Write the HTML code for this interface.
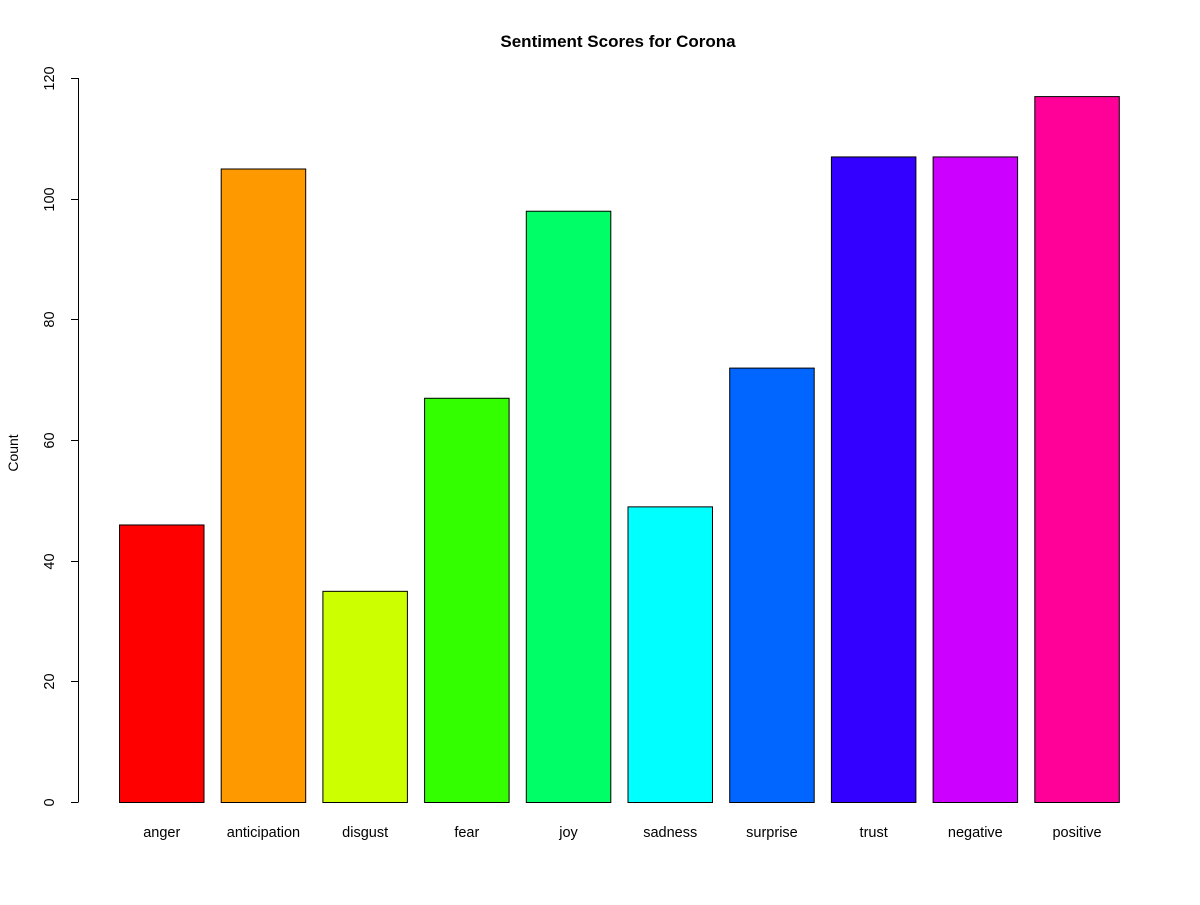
<!DOCTYPE html>
<html><head><meta charset="utf-8"><style>
html,body{margin:0;padding:0;background:#fff;}
svg text{font-family:"Liberation Sans",Arial,sans-serif;}
</style></head><body>
<svg id="chart" width="1200" height="900" xmlns="http://www.w3.org/2000/svg">
<rect width="1200" height="900" fill="#fff"/>
<text x="618" y="47" text-anchor="middle" font-size="17" font-weight="bold">Sentiment Scores for Corona</text>
<text transform="translate(18,453) rotate(-90)" text-anchor="middle" font-size="14">Count</text>
<g id="bars"></g>
<g id="yaxis"></g>
<g id="xlabels"></g>
</svg>
<script>
const categories = ["anger","anticipation","disgust","fear","joy","sadness","surprise","trust","negative","positive"];
const values = [46,105,35,67,98,49,72,107,107,117];
const colors = ["#FF0000","#FF9900","#CCFF00","#33FF00","#00FF66","#00FFFF","#0066FF","#3300FF","#CC00FF","#FF0099"];
const yTicks = [0,20,40,60,80,100,120];

const NS="http://www.w3.org/2000/svg";
const y0=802, y1=78, yMax=120;
function yScale(v){return y0-(v/yMax)*(y0-y1);}
function xScale(i){return 119+i*101.7;}
const bw=84.5;
const bars=document.getElementById('bars');
const xl=document.getElementById('xlabels');
categories.forEach((c,i)=>{
  const r=document.createElementNS(NS,'rect');
  
  
  const top=yScale(values[i]);
  r.setAttribute('x',xScale(i)+0.5);r.setAttribute('y',top+0.5);
  r.setAttribute('width',bw);r.setAttribute('height',y0-top);
  r.setAttribute('fill',colors[i]);r.setAttribute('stroke','#000');r.setAttribute('stroke-width','1');
  bars.appendChild(r);
  const t=document.createElementNS(NS,'text');
  
  
  t.setAttribute('x',xScale(i)+bw/2+0.5);t.setAttribute('y',837);
  t.setAttribute('text-anchor','middle');t.setAttribute('font-size','14.5');
  t.textContent=c;xl.appendChild(t);
});
const ya=document.getElementById('yaxis');
const ax=document.createElementNS(NS,'line');


ax.setAttribute('x1',78.5);ax.setAttribute('x2',78.5);ax.setAttribute('y1',yScale(0));ax.setAttribute('y2',yScale(yMax));
ax.setAttribute('stroke','#000');ya.appendChild(ax);
yTicks.forEach(v=>{
  const y=Math.round(yScale(v))+0.5;
  const l=document.createElementNS(NS,'line');
  
  
  l.setAttribute('x1',71);l.setAttribute('x2',78.5);l.setAttribute('y1',y);l.setAttribute('y2',y);
  l.setAttribute('stroke','#000');ya.appendChild(l);
  const t=document.createElementNS(NS,'text');
  
  
  t.setAttribute('transform','translate(54,'+y+') rotate(-90)');
  t.setAttribute('text-anchor','middle');t.setAttribute('font-size','14.5');
  t.textContent=v;ya.appendChild(t);
});
</script>
</body></html>
